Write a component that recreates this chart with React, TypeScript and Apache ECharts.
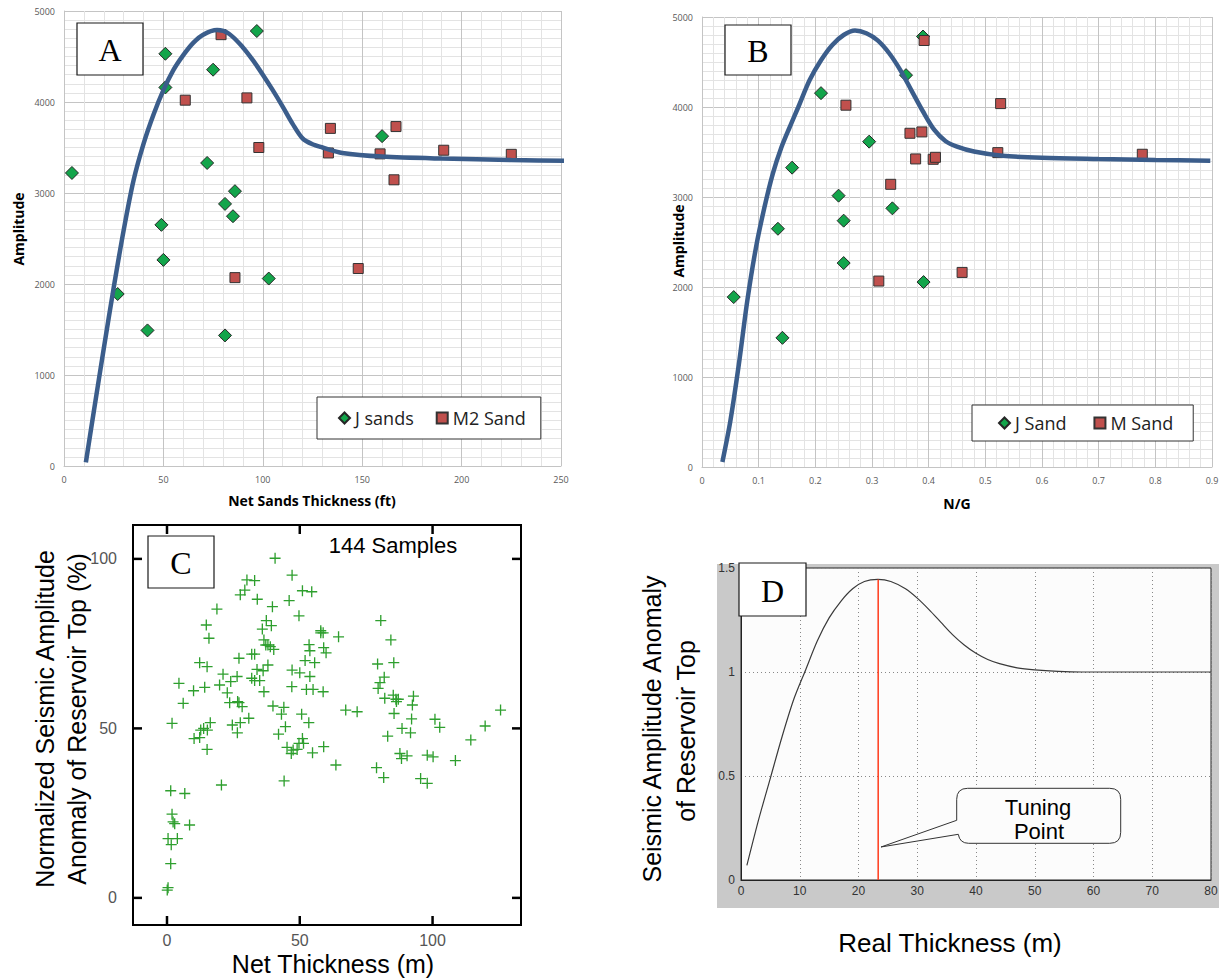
import React, { useEffect, useRef } from "react";
import * as echarts from "echarts";

// ---------- Panel A : Amplitude vs Net Sands Thickness (ft) ----------
const aJSands = [
  [4, 3220], [51, 4530], [51, 4160], [75, 4355], [97, 4780], [72, 3330], [86, 3020], [81, 2880],
  [85, 2745], [49, 2650], [27, 1890], [42, 1490], [50, 2265], [81, 1435], [103, 2060], [160, 3625],
];
const aM2Sand = [
  [79, 4740], [61, 4020], [92, 4045], [98, 3500], [86, 2070], [148, 2170], [134, 3710],
  [133, 3440], [167, 3730], [159, 3430], [166, 3145], [191, 3470], [225, 3425],
];
const aCurveX = [11, 15, 20, 25, 30, 35, 40, 45, 50, 55, 60, 65, 70, 77, 83, 90, 95, 100, 105, 110, 115, 120, 125, 130, 140, 160, 190, 225, 256];
const aCurveY = [40, 600, 1290, 1960, 2590, 3140, 3540, 3860, 4130, 4350, 4515, 4650, 4740, 4790, 4750, 4600, 4460, 4300, 4130, 3950, 3760, 3600, 3535, 3500, 3440, 3400, 3378, 3363, 3352];

// ---------- Panel B : Amplitude vs N/G ----------
const bJSand = [
  [0.39, 4783], [0.36, 4354], [0.21, 4154], [0.295, 3615], [0.159, 3326], [0.241, 3015], [0.25, 2737],
  [0.336, 2874], [0.134, 2647], [0.056, 1888], [0.142, 1435], [0.25, 2266], [0.391, 2055],
];
const bMSand = [
  [0.392, 4739], [0.254, 4020], [0.367, 3708], [0.388, 3723], [0.377, 3423], [0.408, 3419], [0.412, 3441],
  [0.333, 3141], [0.527, 4038], [0.522, 3493], [0.777, 3475], [0.312, 2066], [0.459, 2162],
];
const bCurveX = [0.036, 0.05, 0.065, 0.08, 0.095, 0.11, 0.125, 0.14, 0.155, 0.17, 0.19, 0.21, 0.23, 0.25, 0.27, 0.29, 0.31, 0.33, 0.35, 0.37, 0.39, 0.41, 0.43, 0.45, 0.48, 0.53, 0.6, 0.7, 0.8, 0.897];
const bCurveY = [56, 510, 1140, 1850, 2430, 2880, 3260, 3550, 3780, 4000, 4300, 4520, 4690, 4800, 4850, 4820, 4740, 4600, 4410, 4180, 3950, 3745, 3620, 3560, 3505, 3458, 3435, 3422, 3412, 3404];

// ---------- Panel C : 144 samples ----------
const cSamples = [
  [40.7, 100.2], [47.1, 95.2], [30.1, 93.8], [33.0, 93.6], [29.3, 90.8], [27.6, 89.4], [51.0, 90.6], [54.5, 90.3],
  [34.0, 88.1], [46.0, 87.7], [39.7, 85.9], [18.8, 85.2], [49.7, 83.2], [14.8, 80.5], [37.4, 81.8], [39.3, 80.3],
  [35.9, 79.3], [15.8, 76.6], [57.9, 78.8], [58.8, 78.2], [64.6, 77.0], [36.5, 76.1], [37.2, 74.6], [38.9, 74.1],
  [40.2, 73.3], [53.5, 74.7], [53.8, 72.9], [59.0, 73.8], [59.9, 72.3], [31.9, 71.9], [33.0, 71.9], [27.1, 70.7],
  [12.3, 69.4], [15.1, 68.2], [52.0, 70.0], [55.6, 69.4], [38.0, 68.7], [33.9, 67.4], [47.1, 67.2], [50.0, 66.4],
  [21.1, 66.0], [26.4, 65.3], [24.0, 63.8], [53.8, 65.3], [31.9, 64.8], [33.0, 64.1], [34.9, 64.1], [4.5, 63.3],
  [19.8, 62.8], [14.2, 62.1], [10.0, 61.1], [22.7, 60.5], [36.5, 60.8], [47.0, 62.3], [52.5, 61.5], [55.0, 61.5],
  [58.8, 60.8], [6.1, 57.4], [23.6, 57.6], [26.6, 57.9], [28.3, 56.4], [39.9, 56.6], [44.0, 56.2], [30.8, 53.0],
  [43.1, 54.2], [50.7, 54.2], [53.4, 51.7], [67.3, 55.4], [71.6, 54.9], [1.9, 51.5], [16.3, 51.7], [13.8, 50.0],
  [15.2, 49.5], [24.6, 51.0], [27.6, 51.7], [44.6, 50.5], [26.5, 48.7], [10.2, 47.0], [12.3, 47.3], [42.0, 48.3],
  [51.0, 47.0], [51.4, 45.6], [15.1, 43.8], [45.2, 44.4], [47.5, 43.6], [49.0, 43.8], [46.8, 42.6], [54.8, 42.8],
  [59.0, 44.6], [63.6, 39.2], [44.1, 34.5], [20.5, 33.3], [1.4, 31.6], [6.7, 30.8], [1.9, 24.7], [2.9, 21.9],
  [2.3, 22.4], [8.5, 21.5], [0.4, 17.5], [3.9, 17.5], [1.6, 15.7], [1.4, 10.1], [0.4, 3.0], [0.1, 2.3],
  [80.5, 81.8], [84.3, 76.1], [79.3, 69.0], [85.4, 69.4], [81.8, 65.1], [80.2, 63.5], [79.5, 61.8], [82.0, 58.9],
  [85.2, 59.8], [87.1, 58.6], [86.4, 57.9], [92.8, 59.5], [92.4, 56.9], [85.5, 54.4], [92.1, 52.8], [100.9, 52.7],
  [102.7, 50.3], [88.5, 50.0], [91.7, 48.7], [83.1, 47.7], [125.6, 55.4], [119.8, 50.7], [114.4, 46.6], [87.7, 42.6],
  [90.4, 41.9], [88.3, 41.1], [98.0, 42.1], [100.2, 41.6], [108.6, 40.5], [78.9, 38.4], [81.6, 35.5], [95.5, 35.2],
  [98.0, 33.8], [12.7, 49.5], [36.2, 67.0], [86.2, 58.6], [27.1, 57.6], [49.7, 45.6], [38.0, 74.6], [57.9, 78.2],
];

// ---------- Panel D : tuning curve ----------
const dCurveX = [1, 3, 5, 7, 9, 11, 13, 15, 17, 19, 21, 23.3, 25.5, 28, 30, 32, 34, 36, 38, 40, 42, 44, 47, 50, 54, 58, 80];
const dCurveY = [0.07, 0.29, 0.49, 0.69, 0.87, 1.01, 1.15, 1.26, 1.34, 1.4, 1.435, 1.445, 1.435, 1.4, 1.355, 1.3, 1.24, 1.18, 1.13, 1.09, 1.06, 1.04, 1.02, 1.01, 1.003, 1.0, 1.0];
const dTuningX = 23.35;
const dTuningPeak = 1.445;

// panel C axis ranges and tick values
const cXRange = [-12.8, 133.3];
const cYRange = [-8, 110];
const cXTicks = [0, 50, 100];
const cYTicks = [0, 50, 100];

const zip = (xs: number[], ys: number[]) => xs.map((x, i) => [x, ys[i]]);
const plain = (v: number) => String(Math.round(v * 1000) / 1000);
const only = (list: number[]) => (v: number) => (list.indexOf(Math.round(v * 1000) / 1000) >= 0 ? String(v) : "");

const calloutPath =
  "M0,32 L0,11 Q0,0 11,0 L153,0 Q164,0 164,11 L164,44 Q164,55 153,55 L12,55 Q3,55 1.6,46 L-75.7,58.7 Z";
echarts.graphic.registerShape("callout", echarts.graphic.extendPath(calloutPath, {}));

const XL_FONT = "Open Sans";
const SANS = "Liberation Sans";
const SERIF = "Liberation Serif";
const C_SERIES_INDEX = 6;
const TICK_LEN = 9;
const C_GRID = { left: 133, top: 525, width: 388, height: 400 };

function excelAxis(gridIndex: number, min: number, max: number, interval: number, minorSplit: number) {
  return {
    type: "value",
    gridIndex,
    min,
    max,
    interval,
    axisLine: { show: true, onZero: false, lineStyle: { color: "#c4c4c4", width: 1 } },
    axisTick: { show: false },
    axisLabel: { fontSize: 9, color: "#595959", fontFamily: XL_FONT, margin: 9, formatter: plain },
    splitLine: { show: true, lineStyle: { color: "#c4c4c4", width: 1 } },
    minorTick: { show: false, splitNumber: minorSplit },
    minorSplitLine: { show: true, lineStyle: { color: "#e3e3e3", width: 1 } },
  };
}

function textEl(text: string, x: number, y: number, size: number, opts: any = {}) {
  return {
    type: "text",
    x,
    y,
    rotation: opts.rotation || 0,
    z: 60,
    style: {
      text,
      fill: opts.color || "#000",
      fontSize: size,
      fontFamily: opts.family || SANS,
      fontWeight: opts.weight || "normal",
      align: "center",
      verticalAlign: "middle",
      textAlign: "center",
      textVerticalAlign: "middle",
    },
  };
}

function letterBox(letter: string, x: number, y: number, w: number, h: number) {
  return [
    {
      type: "rect",
      z: 60,
      shape: { x, y, width: w, height: h },
      style: { fill: "#fff", stroke: "#1a1a1a", lineWidth: 1.2 },
    },
    textEl(letter, x + w / 2, y + h / 2 + 1, 32, { family: SERIF }),
  ];
}

// Panel C axes: nice ticks (interval 50) computed by ECharts, only 0/50/100 labelled
function boxAxis(gridIndex: number, range: number[], splitNumber: number, ticks: number[], position: string, labels: boolean, margin: number) {
  return {
    type: "value",
    gridIndex,
    min: range[0],
    max: range[1],
    splitNumber,
    position,
    axisLine: { show: true, onZero: false, lineStyle: { color: "#000", width: 2 } },
    axisTick: { show: false },
    axisLabel: labels
      ? { show: true, fontSize: 16, color: "#555", fontFamily: SANS, margin, formatter: only(ticks), showMinLabel: true, showMaxLabel: true }
      : { show: false },
    splitLine: { show: false },
  };
}

function tickLine(x1: number, y1: number, x2: number, y2: number) {
  return {
    type: "line",
    z: 100,
    silent: true,
    shape: { x1, y1, x2, y2 },
    style: { stroke: "#000", lineWidth: 2.5 },
  };
}

export default function App() {
  const ref = useRef<HTMLDivElement>(null);

  useEffect(() => {
    if (!ref.current) return;
    const chart = echarts.init(ref.current, undefined, { renderer: "svg" });

    const legendCommon = {
      orient: "horizontal",
      itemWidth: 11,
      itemHeight: 11,
      backgroundColor: "#fff",
      borderColor: "#333",
      borderWidth: 1,
      selectedMode: false,
      textStyle: { fontSize: 18, fontFamily: XL_FONT, color: "#222" },
    };

    const elements: any[] = [
      {
        type: "rect", z: -100, silent: true,
        shape: { x: 717, y: 564, width: 502, height: 344 },
        style: { fill: "#c9c9c9" },
      },
      ...letterBox("A", 77, 23, 66, 52),
      ...letterBox("B", 725, 25, 66, 50),
      ...letterBox("C", 148, 536, 66, 52),
      ...letterBox("D", 739, 563, 67, 53),
      textEl("Amplitude", 18, 229, 14, { rotation: Math.PI / 2, weight: "bold", family: XL_FONT }),
      textEl("Net Sands Thickness (ft)", 312, 500, 14, { weight: "bold", family: XL_FONT }),
      textEl("Amplitude", 678, 241, 14, { rotation: Math.PI / 2, weight: "bold", family: XL_FONT }),
      textEl("N/G", 957, 503, 14, { weight: "bold", family: XL_FONT }),
      textEl("Normalized Seismic Amplitude", 45, 719, 25, { rotation: Math.PI / 2 }),
      textEl("Anomaly of Reservoir Top (%)", 77, 719, 25, { rotation: Math.PI / 2 }),
      textEl("Net Thickness (m)", 333, 964, 25),
      textEl("144 Samples", 393, 545, 22),
      textEl("Seismic Amplitude Anomaly", 652, 729, 25, { rotation: Math.PI / 2 }),
      textEl("of Reservoir Top", 686, 731, 25, { rotation: Math.PI / 2 }),
      textEl("Real Thickness (m)", 950, 943, 26),
      {
        type: "callout", x: 956.7, y: 788.3, z: 55,
        style: { fill: "#fcfcfc", stroke: "#333", lineWidth: 1 },
      },
      textEl("Tuning", 1038, 807, 22),
      textEl("Point", 1039, 831, 22),
    ];

    const option: any = {
      animation: false,
      backgroundColor: "#fff",
      grid: [
        { left: 64, top: 11, width: 497, height: 455, outerBoundsMode: "none" },
        { left: 702, top: 17, width: 510, height: 450, outerBoundsMode: "none" },
        {
          ...C_GRID, outerBoundsMode: "none",
          show: true, borderColor: "#000", borderWidth: 2, backgroundColor: "transparent",
        },
        {
          left: 741, top: 568, width: 470, height: 312, outerBoundsMode: "none",
          show: true, borderColor: "#222", borderWidth: 1, backgroundColor: "#fcfcfc",
        },
      ],
      xAxis: [
        excelAxis(0, 0, 250, 50, 5),
        excelAxis(1, 0, 0.9, 0.1, 5),
        boxAxis(2, cXRange, 3, cXTicks, "bottom", true, 7),
        boxAxis(2, cXRange, 3, cXTicks, "top", false, 0),
        {
          type: "value", gridIndex: 3, min: 0, max: 80, interval: 10,
          axisLine: { show: true, onZero: false, lineStyle: { color: "#222", width: 1 } },
          axisTick: { show: false },
          axisLabel: { fontSize: 12, color: "#333", fontFamily: SANS, margin: 5 },
          splitLine: { show: true, lineStyle: { color: "#888", width: 1, type: [1, 3] } },
        },
      ],
      yAxis: [
        excelAxis(0, 0, 5000, 1000, 10),
        excelAxis(1, 0, 5000, 1000, 10),
        boxAxis(2, cYRange, 2, cYTicks, "left", true, 16),
        boxAxis(2, cYRange, 2, cYTicks, "right", false, 0),
        {
          type: "value", gridIndex: 3, min: 0, max: 1.5, interval: 0.5,
          axisLine: { show: true, onZero: false, lineStyle: { color: "#222", width: 1 } },
          axisTick: { show: false },
          axisLabel: { fontSize: 12, color: "#333", fontFamily: SANS, margin: 6, formatter: plain },
          splitLine: { show: true, lineStyle: { color: "#888", width: 1, type: [1, 3] } },
        },
      ],
      legend: [
        {
          ...legendCommon,
          data: ["J sands", "M2 Sand"],
          left: 317,
          top: 397,
          itemGap: 22,
          padding: [12, 15, 12, 21],
        },
        {
          ...legendCommon,
          data: ["J Sand", "M Sand"],
          left: 972,
          top: 405,
          itemGap: 27,
          padding: [9, 20, 9, 26],
        },
      ],
      series: [
        {
          name: "J sands", type: "scatter", xAxisIndex: 0, yAxisIndex: 0, data: aJSands,
          symbol: "diamond", symbolSize: 13, z: 3,
          itemStyle: { color: "#13a54b", borderColor: "#262626", borderWidth: 1, opacity: 1 },
        },
        {
          name: "M2 Sand", type: "scatter", xAxisIndex: 0, yAxisIndex: 0, data: aM2Sand,
          symbol: "rect", symbolSize: 10, z: 3,
          itemStyle: { color: "#c0504d", borderColor: "#333", borderWidth: 1, opacity: 1 },
        },
        {
          name: "A trend", type: "line", xAxisIndex: 0, yAxisIndex: 0, data: zip(aCurveX, aCurveY),
          showSymbol: false, smooth: 0.3, clip: false, z: 4, silent: true,
          lineStyle: { color: "#3b5d8b", width: 4.5 },
        },
        {
          name: "J Sand", type: "scatter", xAxisIndex: 1, yAxisIndex: 1, data: bJSand,
          symbol: "diamond", symbolSize: 13, z: 3,
          itemStyle: { color: "#13a54b", borderColor: "#262626", borderWidth: 1, opacity: 1 },
        },
        {
          name: "M Sand", type: "scatter", xAxisIndex: 1, yAxisIndex: 1, data: bMSand,
          symbol: "rect", symbolSize: 10, z: 3,
          itemStyle: { color: "#c0504d", borderColor: "#333", borderWidth: 1, opacity: 1 },
        },
        {
          name: "B trend", type: "line", xAxisIndex: 1, yAxisIndex: 1, data: zip(bCurveX, bCurveY),
          showSymbol: false, smooth: 0.3, clip: false, z: 4, silent: true,
          lineStyle: { color: "#3b5d8b", width: 4.5 },
        },
        {
          name: "Samples", type: "scatter", xAxisIndex: 2, yAxisIndex: 2, data: cSamples,
          symbol: "path://M4.4,0H5.6V4.4H10V5.6H5.6V10H4.4V5.6H0V4.4H4.4Z", symbolSize: 11,
          itemStyle: { color: "#2e9f2e", opacity: 1 },
        },
        {
          name: "D curve", type: "line", xAxisIndex: 4, yAxisIndex: 4, data: zip(dCurveX, dCurveY),
          showSymbol: false, smooth: 0.3, z: 3, silent: true,
          lineStyle: { color: "#3a3a3a", width: 1.2 },
        },
        {
          name: "Tuning", type: "line", xAxisIndex: 4, yAxisIndex: 4,
          data: [[dTuningX, 0], [dTuningX, dTuningPeak]],
          showSymbol: false, z: 4, silent: true,
          lineStyle: { color: "#ff3a1a", width: 1.5 },
        },
      ],
      graphic: { elements },
    };

    chart.setOption(option);

    // inward tick marks on all four sides of panel C, placed through the chart's scales
    const ok = (p: any) => Array.isArray(p) && isFinite(p[0]) && isFinite(p[1]);
    const px = (x: number, y: number): number[] => {
      let p: any = null;
      try {
        p = chart.convertToPixel({ seriesIndex: C_SERIES_INDEX }, [x, y]);
      } catch (e) {
        p = null;
      }
      if (!ok(p)) {
        p = [
          C_GRID.left + ((x - cXRange[0]) / (cXRange[1] - cXRange[0])) * C_GRID.width,
          C_GRID.top + C_GRID.height - ((y - cYRange[0]) / (cYRange[1] - cYRange[0])) * C_GRID.height,
        ];
      }
      return p;
    };
    const ticks: any[] = [];
    cXTicks.forEach((v) => {
      const b = px(v, cYRange[0]);
      const t = px(v, cYRange[1]);
      ticks.push(tickLine(b[0], b[1], b[0], b[1] - TICK_LEN));
      ticks.push(tickLine(t[0], t[1], t[0], t[1] + TICK_LEN));
    });
    cYTicks.forEach((v) => {
      const l = px(cXRange[0], v);
      const r = px(cXRange[1], v);
      ticks.push(tickLine(l[0], l[1], l[0] + TICK_LEN, l[1]));
      ticks.push(tickLine(r[0], r[1], r[0] - TICK_LEN, r[1]));
    });
    chart.setOption({ ...option, graphic: { elements: [...elements, ...ticks] } }, true);

    return () => chart.dispose();
  }, []);

  return (
    <div
      ref={ref}
      style={{ position: "absolute", left: 0, top: 0, width: 1219, height: 980, background: "#fff" }}
    />
  );
}
